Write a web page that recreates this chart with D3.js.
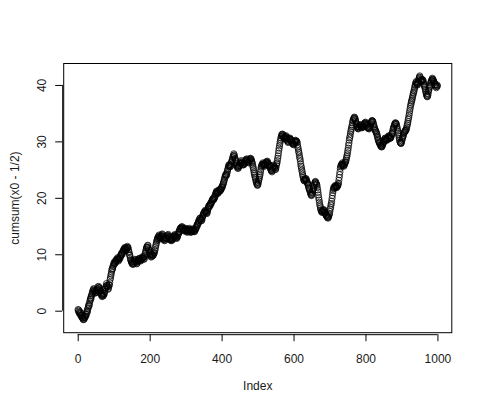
<!DOCTYPE html>
<html><head><meta charset="utf-8">
<script src="https://cdn.jsdelivr.net/npm/d3@7"></script>
<style>html,body{margin:0;padding:0;background:#fff;}text{font-family:"Liberation Sans",Arial,sans-serif;}</style>
</head><body>
<script>
// cumsum(x0 - 1/2) (index 1..1000)
const cumsumValues = [
0.2,-0.1,0.1,-0.3,-0.5,-0.2,-0.6,-0.4,-0.9,-0.8,
-1.1,-0.9,-1.3,-1.2,-1.5,-1.6,-1.3,-1.5,-1.1,-1.2,
-0.9,-1.0,-0.6,-0.7,-0.3,0.0,-0.2,0.3,0.5,0.8,
1.1,0.9,1.4,1.7,2.0,2.3,2.1,2.6,2.8,3.0,
3.4,3.2,3.6,3.9,3.8,3.4,3.6,3.1,3.3,3.2,
3.5,3.3,3.7,3.6,3.8,4.2,3.9,4.3,4.1,4.0,
3.7,3.4,3.6,3.2,3.0,2.7,2.9,2.5,2.8,2.6,
2.9,2.7,3.1,3.0,3.4,3.8,4.1,4.0,4.4,4.8,
4.5,4.2,4.4,3.9,3.8,4.2,4.6,4.5,5.0,5.5,
5.8,6.2,6.5,6.9,7.2,7.5,7.4,7.8,8.0,8.2,
8.5,8.3,8.7,8.4,8.6,8.9,8.8,9.1,8.9,9.2,
9.4,9.1,8.8,9.2,9.0,9.3,9.5,9.3,9.7,9.8,
10.1,9.9,10.2,10.0,10.4,10.6,10.5,10.9,10.7,11.0,
11.2,10.9,11.1,10.7,10.8,11.2,11.0,11.4,11.1,11.2,
10.8,10.5,10.3,9.9,9.8,9.4,9.1,8.9,8.7,8.6,
8.3,8.6,8.4,8.2,8.3,8.6,8.9,8.7,9.1,9.0,
8.8,8.5,8.7,8.3,8.4,8.7,8.9,8.8,9.1,9.2,
9.0,9.3,8.9,9.1,8.8,9.1,9.0,9.3,9.2,9.4,
9.6,9.3,9.5,9.1,9.2,9.6,9.9,10.2,10.5,10.8,
11.1,11.3,11.2,11.5,11.6,11.2,10.9,10.7,10.4,10.2,
9.9,10.1,9.8,9.5,9.6,9.9,9.7,10.0,9.8,9.8,
10.1,10.3,10.2,10.6,10.8,11.2,11.5,11.8,12.1,12.4,
12.6,12.9,12.7,13.0,13.2,13.4,13.1,13.0,12.7,12.8,
13.1,13.3,13.2,13.5,13.6,13.3,13.1,12.8,12.9,12.6,
12.4,12.7,12.5,12.9,12.8,13.0,12.8,13.1,13.3,13.4,
13.2,13.5,13.1,13.0,12.9,12.6,12.8,12.5,12.7,12.4,
12.6,12.8,12.5,12.7,12.9,13.2,13.0,13.3,13.1,13.5,
13.3,13.0,13.2,12.9,12.8,13.1,13.0,13.3,13.5,13.6,
13.9,14.1,14.0,14.4,14.6,14.4,14.7,14.5,14.8,14.9,
14.6,14.7,14.4,14.5,14.2,14.4,14.1,14.3,14.6,14.5,
14.2,14.4,14.1,13.9,14.0,14.3,14.1,14.4,14.3,14.6,
14.4,14.2,13.9,14.1,13.9,14.2,14.0,14.4,14.1,14.3,
14.5,14.2,14.0,14.2,14.0,14.3,14.5,14.4,14.7,14.8,
15.0,15.3,15.1,15.4,15.6,15.9,15.7,16.0,16.3,16.4,
16.1,16.3,15.9,16.2,16.0,16.4,16.6,16.9,17.0,17.2,
17.4,17.3,17.6,17.5,17.8,17.6,17.3,17.5,17.2,17.4,
17.7,18.0,18.2,18.5,18.6,18.4,18.7,18.9,18.7,19.0,
19.2,19.1,19.4,19.6,19.8,19.6,19.9,19.7,19.8,20.0,
20.3,20.2,20.6,20.8,21.0,21.2,20.9,21.1,20.8,20.8,
21.0,21.3,21.1,21.4,21.5,21.2,21.4,21.6,21.5,21.8,
22.0,21.9,22.2,22.4,22.6,22.8,23.1,23.3,23.6,23.8,
24.1,23.9,24.2,24.0,24.4,24.7,25.0,25.2,25.5,25.8,
25.6,25.9,25.7,25.5,25.6,25.9,26.2,26.4,26.6,26.8,
27.1,27.3,27.5,27.8,27.6,27.3,27.0,26.8,26.7,26.4,
26.1,25.8,25.6,25.4,25.2,25.5,25.3,25.6,25.7,25.8,
26.0,26.2,26.1,26.4,26.6,26.3,26.1,26.2,25.9,25.8,
26.0,25.9,26.2,26.1,26.4,26.6,26.5,26.8,26.7,26.9,
26.6,26.5,26.3,26.4,26.2,26.5,26.7,26.6,26.9,27.0,
26.8,26.9,26.6,26.4,26.2,25.9,25.6,25.3,25.0,24.6,
24.3,24.0,23.7,23.5,23.2,22.9,22.7,22.5,22.3,22.2,
22.4,22.7,23.0,23.3,23.6,23.9,24.2,24.6,25.0,25.4,
25.6,25.9,25.7,26.0,26.2,26.0,25.8,25.9,25.7,25.6,
25.9,26.1,26.0,26.3,26.4,26.2,26.5,26.3,26.1,26.0,
25.8,25.9,25.6,25.7,25.4,25.2,25.0,24.8,24.9,24.6,
24.8,25.1,25.3,25.6,25.8,25.5,25.3,25.4,25.1,25.0,
25.3,25.7,26.0,26.2,26.6,27.0,27.4,27.9,28.4,28.8,
29.2,29.6,30.0,30.3,30.6,30.9,31.2,31.0,31.3,31.2,
31.0,30.8,30.6,30.7,30.4,30.6,30.9,30.7,31.0,30.8,
30.5,30.3,30.1,30.0,29.8,30.0,30.3,30.5,30.4,30.6,
30.4,30.2,30.3,30.1,30.0,29.8,29.6,29.7,29.5,29.4,
29.6,29.8,30.0,29.9,30.2,30.0,30.1,29.9,30.0,29.8,
29.4,29.0,28.7,28.3,28.0,27.6,27.2,26.9,26.5,26.0,
25.6,25.3,24.9,24.6,24.2,23.9,23.6,23.3,23.1,23.0,
23.2,23.4,23.1,23.3,23.4,23.1,22.9,22.7,22.6,22.4,
22.2,21.9,21.7,21.5,21.4,21.1,20.9,20.7,20.5,20.4,
20.6,20.9,21.2,21.4,21.6,21.9,22.2,22.4,22.6,22.8,
22.9,22.7,22.5,22.4,22.2,21.8,21.4,21.0,20.5,20.0,
19.6,19.2,18.8,18.5,18.2,17.9,17.7,17.5,17.6,17.4,
17.6,17.8,17.7,17.9,17.8,17.5,17.3,17.4,17.2,17.0,
16.8,16.9,16.7,16.5,16.6,16.4,16.6,16.8,17.0,17.2,
17.6,18.0,18.3,18.7,19.0,19.4,19.9,20.4,20.9,21.3,
21.6,21.9,21.7,21.8,22.0,22.2,21.9,22.1,21.9,21.8,
22.0,22.2,22.1,22.4,22.6,23.1,23.6,24.1,24.6,25.2,
25.5,25.7,25.9,25.8,26.0,26.2,25.9,25.7,25.8,25.6,
25.8,26.0,26.2,26.3,26.4,26.7,27.0,27.3,27.6,28.0,
28.4,28.8,29.3,29.7,30.2,30.6,30.9,31.3,31.7,32.0,
32.3,32.6,32.9,33.3,33.6,33.8,34.0,34.1,34.3,34.2,
34.0,33.8,33.5,33.2,33.0,32.7,32.5,32.6,32.3,32.2,
32.4,32.6,32.5,32.8,33.0,32.8,32.6,32.7,32.5,32.4,
32.6,32.5,32.8,32.7,32.8,33.0,33.2,33.1,33.3,33.4,
33.2,33.0,32.8,32.9,32.6,32.4,32.5,32.3,32.4,32.2,
32.4,32.6,32.8,33.0,33.2,33.4,33.5,33.7,33.6,33.6,
33.4,33.1,32.9,32.6,32.4,32.2,32.0,31.9,31.7,31.6,
31.4,31.2,30.9,30.7,30.4,30.2,30.0,29.8,29.7,29.6,
29.4,29.3,29.1,29.2,29.0,29.1,29.3,29.5,29.6,29.8,
30.0,30.2,30.3,30.5,30.6,30.4,30.2,30.4,30.3,30.2,
30.4,30.6,30.7,30.9,31.0,30.8,30.7,30.5,30.7,30.6,
30.8,31.0,31.3,31.4,31.6,31.9,32.2,32.4,32.6,32.8,
33.0,33.1,33.3,33.2,33.2,33.0,32.7,32.4,32.1,31.8,
31.5,31.2,30.9,30.5,30.2,29.9,29.8,29.7,29.6,29.8,
30.1,30.4,30.6,30.8,31.0,31.3,31.5,31.6,31.7,31.8,
32.0,31.9,32.1,32.3,32.6,32.9,33.2,33.5,33.9,34.2,
34.6,35.0,35.4,35.8,36.2,36.5,36.8,37.1,37.3,37.6,
37.9,38.2,38.5,38.7,39.0,39.3,39.6,39.9,40.1,40.4,
40.6,40.4,40.2,40.1,40.0,40.3,40.6,40.9,41.2,41.4,
41.6,41.3,41.0,40.8,40.6,40.8,41.0,40.7,40.9,40.8,
40.5,40.2,40.0,39.8,39.6,39.3,39.0,38.7,38.4,38.2,
38.0,37.9,38.1,38.4,38.8,39.1,39.4,39.6,39.8,40.0,
40.3,40.5,40.7,40.8,41.0,41.2,41.0,40.9,40.7,40.6,
40.4,40.3,40.1,40.0,40.0,39.7,39.5,39.8,40.0,39.8
];
const xTicks = [0, 200, 400, 600, 800, 1000];
const yTicks = [0, 10, 20, 30, 40];
const xLabel = "Index";
const yLabel = "cumsum(x0 - 1/2)";

const W = 485, H = 412;
const box = {left: 63.7, right: 451.8, top: 63.5, bottom: 332.7};
const textColor = "#1a1a1a";

const svg = d3.select("body").append("svg").attr("width", W).attr("height", H)
  .style("display","block").style("background","#fff");

const x = d3.scaleLinear().domain([-38.96, 1039.96]).range([box.left, box.right]);
const y = d3.scaleLinear().domain([-3.9, 43.8]).range([box.bottom, box.top]);

const data = cumsumValues.map((v, i) => ({i: i + 1, v}));

// points (pch = 1)
svg.append("g").selectAll("circle").data(data).join("circle")
  .attr("cx", d => x(d.i)).attr("cy", d => y(d.v)).attr("r", 3.1)
  .attr("fill", "none").attr("stroke", "#000").attr("stroke-width", 0.75);

// box
svg.append("rect").attr("x", box.left).attr("y", box.top)
  .attr("width", box.right - box.left).attr("height", box.bottom - box.top)
  .attr("fill", "none").attr("stroke", "#000").attr("stroke-width", 1);

// x axis
const xAxis = d3.axisBottom(x).tickValues(xTicks).tickSize(7).tickPadding(13).tickFormat(d3.format("d"));
const gx = svg.append("g").attr("transform", `translate(0,${box.bottom + 1.5})`).call(xAxis);
gx.select(".domain").attr("d", `M${x(0)},0.5H${x(1000)}`).attr("stroke", "#000");
gx.selectAll(".tick line").attr("stroke", "#000");
gx.selectAll("text").attr("font-size", 12).attr("fill", textColor)
  .attr("font-family", "Liberation Sans, Arial, sans-serif");

// y axis
const yAxis = d3.axisLeft(y).tickValues(yTicks).tickSize(7).tickPadding(0).tickFormat(d3.format("d"));
const gy = svg.append("g").attr("transform", `translate(${box.left - 1.5},0)`).call(yAxis);
gy.select(".domain").attr("d", `M0.5,${y(0)}V${y(40)}`).attr("stroke", "#000");
gy.selectAll(".tick line").attr("stroke", "#000");
gy.selectAll(".tick text")
  .attr("x", null).attr("dy", null)
  .attr("transform", "translate(-16,0) rotate(-90)")
  .attr("text-anchor", "middle").attr("dominant-baseline", "auto")
  .attr("font-size", 12).attr("fill", textColor)
  .attr("font-family", "Liberation Sans, Arial, sans-serif");

// axis titles
svg.append("text").attr("x", (box.left + box.right) / 2).attr("y", 390)
  .attr("text-anchor", "middle").attr("font-size", 12).attr("fill", textColor).text(xLabel);
svg.append("text").attr("transform", `translate(18.5,${(box.top + box.bottom) / 2}) rotate(-90)`)
  .attr("text-anchor", "middle").attr("font-size", 12).attr("fill", textColor).text(yLabel);
</script>
</body></html>
